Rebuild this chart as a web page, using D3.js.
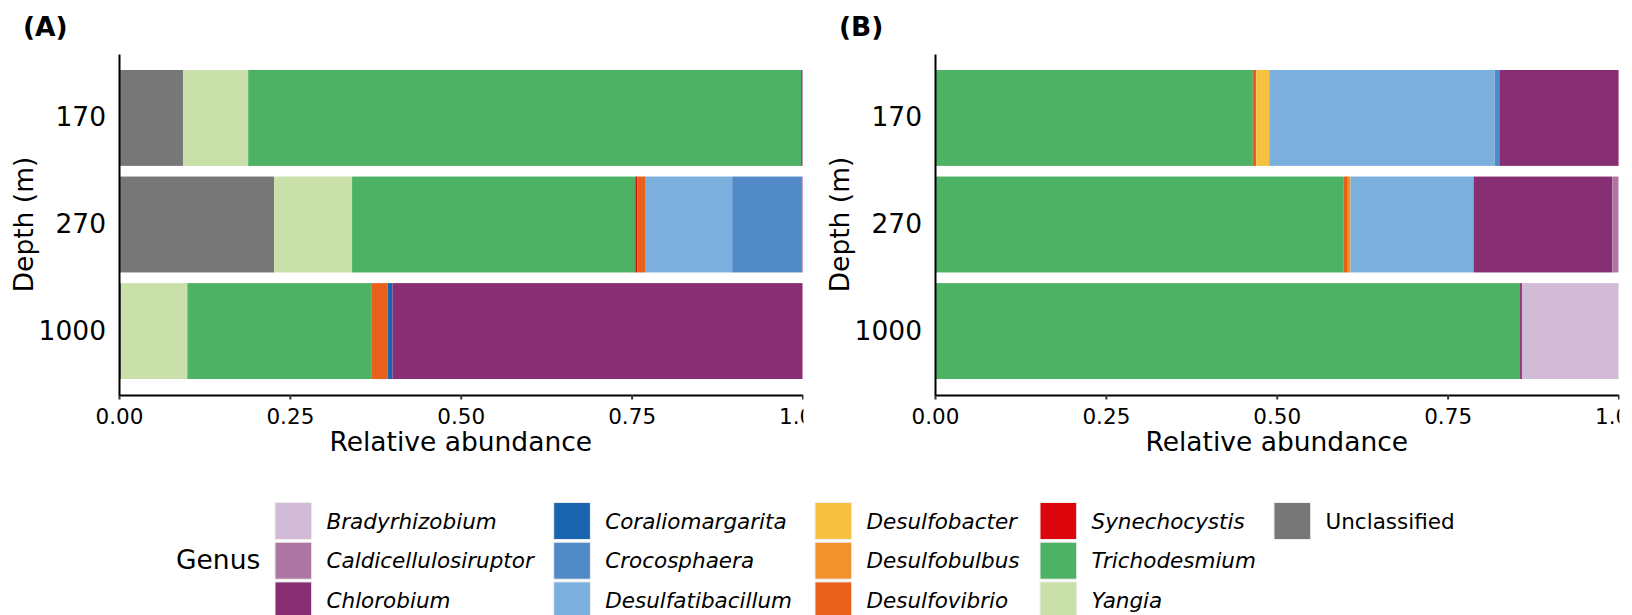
<!DOCTYPE html>
<html>
<head>
<meta charset="utf-8">
<script src="https://cdn.jsdelivr.net/npm/d3@7"></script>
<style>
  html, body { margin: 0; padding: 0; background: #fff; }
  svg { display: block; font-family: "DejaVu Sans", sans-serif; }
</style>
</head>
<body>
<svg id="chart" width="1632" height="615"></svg>
<script>
// ---------- data ----------
const depths = ["170", "270", "1000"];
const genera = ["Bradyrhizobium", "Caldicellulosiruptor", "Chlorobium", "Coraliomargarita",
  "Crocosphaera", "Desulfatibacillum", "Desulfobacter", "Desulfobulbus", "Desulfovibrio",
  "Synechocystis", "Trichodesmium", "Yangia", "Unclassified"];
const generaColors = ["#D1BBD7", "#AE76A3", "#882E72", "#1965B0", "#5289C7", "#7BAFDE",
  "#F6C141", "#F1932D", "#E8601C", "#DC050C", "#4EB265", "#CAE0AB", "#777777"];
const xTicks = [0, 0.25, 0.5, 0.75, 1];

// values in the order of `genera`
const A_170  = [0, 0, 0.002, 0, 0, 0, 0, 0, 0, 0, 0.809, 0.095, 0.094];
const A_270  = [0, 0, 0.0013, 0, 0.1014, 0.1276, 0, 0, 0.0114, 0.0027, 0.4145, 0.114, 0.227];
const A_1000 = [0, 0, 0.600, 0.007, 0, 0, 0, 0, 0.024, 0, 0.269, 0.097, 0.003];
const B_170  = [0, 0, 0.1745, 0, 0.0066, 0.330, 0.019, 0, 0.005, 0, 0.465, 0, 0];
const B_270  = [0, 0.009, 0.203, 0, 0, 0.180, 0, 0.004, 0.006, 0, 0.598, 0, 0];
const B_1000 = [0.1413, 0, 0.0027, 0, 0, 0, 0, 0, 0, 0, 0.856, 0, 0];

const panels = [
  { id: "A", label: "(A)", rows: [A_170, A_270, A_1000], x0: 119, x1: 802.5 },
  { id: "B", label: "(B)", rows: [B_170, B_270, B_1000], x0: 935, x1: 1618.5 }
];

// ---------- drawing ----------
const svg = d3.select("#chart");
const defs = svg.append("defs");
const color = d3.scaleOrdinal().domain(genera).range(generaColors);
const yTop = 54, yBottom = 395;
const titleSize = 26.5, tickSizeY = 26.5, tickSizeX = 21.5;

panels.forEach(p => {
  const table = depths.map((d, i) => {
    const o = { depth: d };
    genera.forEach((g, j) => o[g] = p.rows[i][j]);
    return o;
  });
  const keys = genera.slice().reverse();   // Unclassified at the left
  const series = d3.stack().keys(keys)(table);

  const x = d3.scaleLinear().domain([0, 1]).range([p.x0, p.x1]);
  const y = d3.scaleBand().domain(depths).range([yTop, yBottom])
    .paddingInner(0.1).paddingOuter(0.15);

  // the panel's own area clips its axis labels (as in the original figure)
  defs.append("clipPath").attr("id", "clip" + p.id)
    .append("rect").attr("x", p.x0 - 118).attr("y", 0)
    .attr("width", p.x1 - p.x0 + 118 + 1).attr("height", 615);

  const g = svg.append("g").attr("clip-path", `url(#clip${p.id})`);
  g.selectAll("g.series").data(series).join("g")
    .attr("fill", s => color(s.key))
    .selectAll("rect").data(s => s).join("rect")
    .attr("x", d => x(d[0]))
    .attr("width", d => Math.max(0, x(d[1]) - x(d[0])))
    .attr("y", d => y(d.data.depth))
    .attr("height", y.bandwidth());

  // x axis
  const xa = g.append("g").attr("transform", `translate(0,${yBottom})`)
    .call(d3.axisBottom(x).tickValues(xTicks).tickFormat(d3.format(".2f"))
      .tickSizeInner(4.5).tickSizeOuter(0).tickPadding(9));
  xa.select(".domain").attr("stroke", "#000").attr("stroke-width", 2);
  xa.selectAll(".tick line").attr("stroke", "#333").attr("stroke-width", 2);
  xa.selectAll(".tick text").attr("font-size", tickSizeX).attr("fill", "#000")
    .attr("font-family", "DejaVu Sans");

  // y axis
  const ya = g.append("g").attr("transform", `translate(${p.x0},0)`)
    .call(d3.axisLeft(y).tickSizeInner(0).tickSizeOuter(0).tickPadding(13));
  ya.select(".domain").attr("stroke", "#000").attr("stroke-width", 2);
  ya.selectAll(".tick text").attr("font-size", tickSizeY).attr("fill", "#000")
    .attr("font-family", "DejaVu Sans");

  // axis titles
  g.append("text").attr("x", (p.x0 + p.x1) / 2).attr("y", 451)
    .attr("text-anchor", "middle").attr("font-size", titleSize).attr("fill", "#000")
    .text("Relative abundance");
  g.append("text")
    .attr("transform", `translate(${p.x0 - 96},${(yTop + yBottom) / 2}) rotate(-90)`)
    .attr("text-anchor", "middle").attr("dominant-baseline", "central")
    .attr("font-size", titleSize).attr("fill", "#000")
    .text("Depth (m)");

  // panel label
  g.append("text").attr("x", p.x0 - 96).attr("y", 36)
    .attr("font-size", titleSize).attr("font-weight", "bold").attr("fill", "#000")
    .text(p.label);
});

// ---------- legend ----------
const legendColX = [275, 553.7, 815, 1040, 1274];
const rowY0 = 502.5, rowStep = 39.7, keyW = 36.7, keyH = 37;
const lg = svg.append("g");
lg.append("text").attr("x", 176).attr("y", 569).attr("font-size", titleSize)
  .attr("fill", "#000").text("Genus");
genera.forEach((gname, i) => {
  const col = Math.floor(i / 3), row = i % 3;
  const kx = legendColX[col], ky = rowY0 + row * rowStep;
  lg.append("rect").attr("x", kx).attr("y", ky).attr("width", keyW).attr("height", keyH)
    .attr("fill", color(gname)).attr("stroke", "#eeeeee").attr("stroke-width", 1);
  lg.append("text").attr("x", kx + 51.5).attr("y", ky + keyH / 2)
    .attr("dominant-baseline", "central")
    .attr("font-size", tickSizeX).attr("fill", "#000")
    .attr("font-style", gname === "Unclassified" ? "normal" : "italic")
    .text(gname);
});
</script>
</body>
</html>
